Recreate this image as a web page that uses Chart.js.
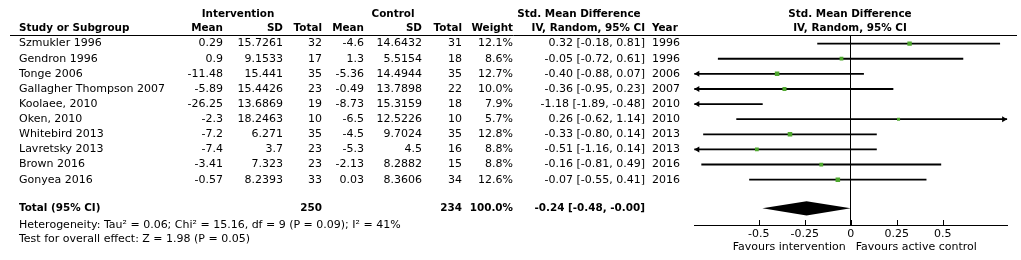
<!DOCTYPE html>
<html>
<head>
<meta charset="utf-8">
<script src="https://cdn.jsdelivr.net/npm/chart.js@4.4.1/dist/chart.umd.min.js"></script>
<style>
html,body{margin:0;padding:0;background:#fff;}
#wrap{width:1021px;height:260px;position:relative;}
</style>
</head>
<body>
<div id="wrap"><canvas id="c" width="1021" height="260"></canvas></div>
<script>
// ---- data ----
const studies = ["Szmukler 1996","Gendron 1996","Tonge 2006","Gallagher Thompson 2007","Koolaee, 2010","Oken, 2010","Whitebird 2013","Lavretsky 2013","Brown 2016","Gonyea 2016"];
const intMean = ["0.29","0.9","-11.48","-5.89","-26.25","-2.3","-7.2","-7.4","-3.41","-0.57"];
const intSD = ["15.7261","9.1533","15.441","15.4426","13.6869","18.2463","6.271","3.7","7.323","8.2393"];
const intTotal = [32,17,35,23,19,10,35,23,23,33];
const ctlMean = ["-4.6","1.3","-5.36","-0.49","-8.73","-6.5","-4.5","-5.3","-2.13","0.03"];
const ctlSD = ["14.6432","5.5154","14.4944","13.7898","15.3159","12.5226","9.7024","4.5","8.2882","8.3606"];
const ctlTotal = [31,18,35,22,18,10,35,16,15,34];
const weights = [12.1,8.6,12.7,10.0,7.9,5.7,12.8,8.8,8.8,12.6];
const smd = [0.32,-0.05,-0.40,-0.36,-1.18,0.26,-0.33,-0.51,-0.16,-0.07];
const ciLow = [-0.18,-0.72,-0.88,-0.95,-1.89,-0.62,-0.80,-1.16,-0.81,-0.55];
const ciHigh = [0.81,0.61,0.07,0.23,-0.48,1.14,0.14,0.14,0.49,0.41];
const years = [1996,1996,2006,2007,2010,2010,2013,2013,2016,2016];
const totalInt = 250, totalCtl = 234;
const pooled = {est:-0.24, lo:-0.48, hi:-0.00};
const tickVals = [-0.5,-0.25,0,0.25,0.5];
const tickLabels = ["-0.5","-0.25","0","0.25","0.5"];

const F = '"DejaVu Sans", Verdana, sans-serif';
const REG = '11px ' + F;
const BOLD = 'bold 10.4px ' + F;
const TOTAL_ROW = 10.9;

const fmt2 = v => ((v < 0 || Object.is(v, -0)) ? '-' : '') + Math.abs(v).toFixed(2);
const ciText = (e,l,h) => fmt2(e) + ' [' + fmt2(l) + ', ' + fmt2(h) + ']';

const forestPlugin = {
  id: 'forest',
  afterDraw(chart){
    const ctx = chart.ctx, xs = chart.scales.x, ys = chart.scales.y, ca = chart.chartArea;
    ctx.save();
    ctx.fillStyle = '#000';
    ctx.strokeStyle = '#000';
    ctx.textBaseline = 'middle';
    const txt = (s,x,y,align,font) => { ctx.font = font; ctx.textAlign = align; ctx.fillText(s,x,y); };

    // header rows
    txt('Intervention', 238, 14, 'center', BOLD);
    txt('Control', 393, 14, 'center', BOLD);
    txt('Std. Mean Difference', 579, 14, 'center', BOLD);
    txt('Std. Mean Difference', 850, 14, 'center', BOLD);
    txt('Study or Subgroup', 19, 28, 'left', BOLD);
    txt('Mean', 223, 28, 'right', BOLD);
    txt('SD', 283, 28, 'right', BOLD);
    txt('Total', 322, 28, 'right', BOLD);
    txt('Mean', 364, 28, 'right', BOLD);
    txt('SD', 422, 28, 'right', BOLD);
    txt('Total', 462, 28, 'right', BOLD);
    txt('Weight', 513, 28, 'right', BOLD);
    txt('IV, Random, 95% CI', 645, 28, 'right', BOLD);
    txt('Year', 652, 28, 'left', BOLD);
    txt('IV, Random, 95% CI', 850, 28, 'center', BOLD);

    // header rule
    ctx.lineWidth = 1;
    ctx.beginPath(); ctx.moveTo(10, ca.top + 0.5); ctx.lineTo(1017, ca.top + 0.5); ctx.stroke();

    // study rows
    studies.forEach((s,i) => {
      const y = ys.getPixelForValue(i);
      txt(s, 19, y, 'left', REG);
      txt(intMean[i], 223, y, 'right', REG);
      txt(intSD[i], 283, y, 'right', REG);
      txt(String(intTotal[i]), 322, y, 'right', REG);
      txt(ctlMean[i], 364, y, 'right', REG);
      txt(ctlSD[i], 422, y, 'right', REG);
      txt(String(ctlTotal[i]), 462, y, 'right', REG);
      txt(weights[i].toFixed(1) + '%', 513, y, 'right', REG);
      txt(ciText(smd[i], ciLow[i], ciHigh[i]), 645, y, 'right', REG);
      txt(String(years[i]), 652, y, 'left', REG);
      // arrows for truncated CIs
      if (ciLow[i] < xs.min) {
        const x0 = xs.getPixelForValue(xs.min);
        ctx.beginPath(); ctx.moveTo(x0, y); ctx.lineTo(x0 + 5, y - 3); ctx.lineTo(x0 + 5, y + 3); ctx.closePath(); ctx.fill();
      }
      if (ciHigh[i] > xs.max) {
        const x1 = xs.getPixelForValue(xs.max);
        ctx.beginPath(); ctx.moveTo(x1, y); ctx.lineTo(x1 - 5, y - 3); ctx.lineTo(x1 - 5, y + 3); ctx.closePath(); ctx.fill();
      }
    });

    // total row
    const yt = ys.getPixelForValue(TOTAL_ROW);
    txt('Total (95% CI)', 19, yt, 'left', BOLD);
    txt(String(totalInt), 322, yt, 'right', BOLD);
    txt(String(totalCtl), 462, yt, 'right', BOLD);
    txt('100.0%', 513, yt, 'right', BOLD);
    txt(ciText(pooled.est, pooled.lo, pooled.hi), 645, yt, 'right', BOLD);

    // diamond
    const h = ys.getPixelForValue(TOTAL_ROW + 0.47) - yt;
    ctx.beginPath();
    ctx.moveTo(xs.getPixelForValue(pooled.lo), yt);
    ctx.lineTo(xs.getPixelForValue(pooled.est), yt - h);
    ctx.lineTo(xs.getPixelForValue(pooled.hi), yt);
    ctx.lineTo(xs.getPixelForValue(pooled.est), yt + h);
    ctx.closePath(); ctx.fill();

    txt('Heterogeneity: Tau\u00B2 = 0.06; Chi\u00B2 = 15.16, df = 9 (P = 0.09); I\u00B2 = 41%', 19, 225, 'left', REG);
    txt('Test for overall effect: Z = 1.98 (P = 0.05)', 19, 239, 'left', REG);

    // axis tick marks (upward)
    ctx.beginPath();
    tickVals.forEach(v => {
      const x = Math.round(xs.getPixelForValue(v)) + 0.5;
      ctx.moveTo(x, ca.bottom); ctx.lineTo(x, ca.bottom - 5);
    });
    ctx.stroke();

    const x0 = xs.getPixelForValue(0);
    txt('Favours intervention', x0 - 5, 247, 'right', REG);
    txt('Favours active control', x0 + 5, 247, 'left', REG);
    ctx.restore();
  }
};

new Chart(document.getElementById('c'), {
  type: 'bar',
  data: {
    datasets: [
      {
        type: 'scatter',
        order: 0,
        data: studies.map((s,i) => ({x: smd[i], y: i})),
        pointStyle: 'rect',
        pointRadius: c => 0.9 * Math.sqrt(weights[c.dataIndex]),
        pointBackgroundColor: '#4ea72e',
        pointBorderWidth: 0,
        showLine: false
      },
      {
        type: 'bar',
        order: 1,
        indexAxis: 'y',
        data: studies.map((s,i) => ({x: [ciLow[i], ciHigh[i]], y: i})),
        backgroundColor: '#000',
        borderWidth: 0,
        barThickness: 1.2
      }
    ]
  },
  options: {
    responsive: false,
    animation: false,
    devicePixelRatio: 1,
    indexAxis: 'y',
    layout: {padding: {left: 694.3, right: 13.9, top: 35, bottom: 0}},
    plugins: {legend: {display: false}, tooltip: {enabled: false}},
    scales: {
      x: {
        type: 'linear',
        min: -0.85, max: 0.85,
        afterBuildTicks: s => { s.ticks = tickVals.map(v => ({value: v})); },
        afterFit: s => { s.height = 35; },
        ticks: {
          callback: (v, i) => tickLabels[i],
          font: {family: F, size: 11},
          color: '#000',
          padding: 3,
          maxRotation: 0,
          autoSkip: false
        },
        grid: {
          drawTicks: false,
          color: c => (c.tick && c.tick.value === 0) ? '#000' : 'rgba(0,0,0,0)',
          lineWidth: 1
        },
        border: {display: true, color: '#000', width: 1}
      },
      y: {
        type: 'linear',
        reverse: true,
        offset: false,
        grace: 0,
        min: -0.57, max: 12,
        display: false
      }
    }
  },
  plugins: [forestPlugin]
});
</script>
</body>
</html>
